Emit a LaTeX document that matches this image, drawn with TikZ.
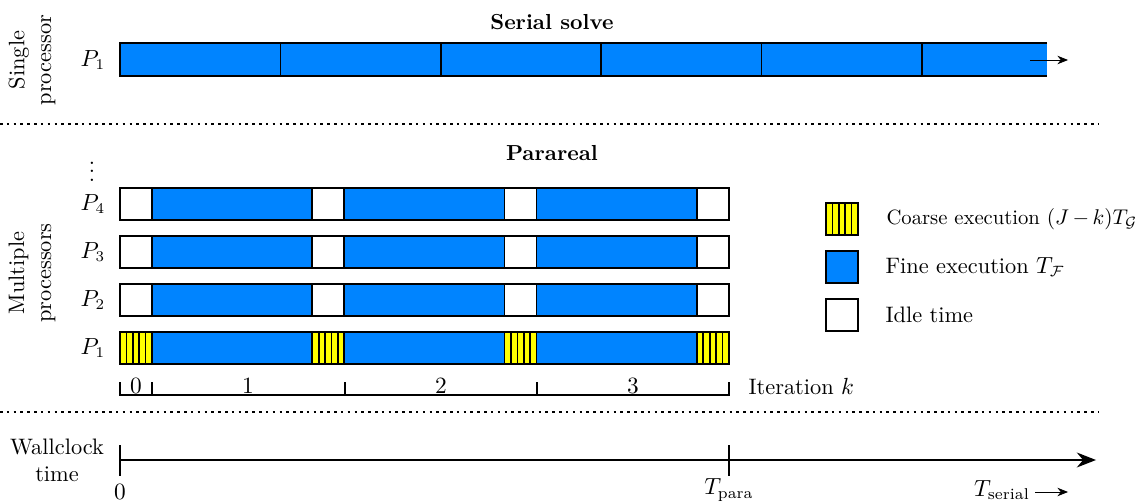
\documentclass[tikz,border=0pt]{standalone}
\usepackage{amsmath,amssymb}
\usepackage{xcolor}
\usetikzlibrary{arrows.meta,positioning,calc}

\definecolor{fineblue}{RGB}{0,132,255}
\definecolor{coarseyellow}{RGB}{255,255,0}

\tikzset{
    txt/.style={font=\fontsize{10.5}{12.6}\selectfont},
    ttl/.style={font=\fontsize{10.2}{12.2}\selectfont\bfseries},
    fineblk/.style={draw=black, thick, fill=fineblue},
    idleblk/.style={draw=black, thick, fill=white},
    coarseblk/.style={draw=black, thick, fill=coarseyellow},
    sepline/.style={dotted, very thick},
    sidelabel/.style={txt, align=center, rotate=90},
}

\begin{document}
\begin{tikzpicture}[x=0.0165cm, y=-0.0165cm]
    \useasboundingbox (0,0) rectangle (1143,503);

    % Single processor: serial solve
    \node[ttl] (serialtitle) at (552,22) {Serial solve};
    \node[sidelabel] (single) at (32,60) {Single\\processor};
    \node[txt] (sp1) at (93,60) {$P_1$};
    \fill[fineblue] (120,43) rectangle (1047,76);
    \draw[thick] (1047,43) -- (120,43) -- (120,76) -- (1047,76);
    \foreach \i in {1,...,5} {
        \draw[thick] (120+\i*160.4,43) -- (120+\i*160.4,76);
    }
    \coordinate (sa) at (1030,60);
    \coordinate (sb) at (1068,60);
    \draw[-{Stealth[length=5pt,width=4pt]}] (sa) -- (sb);

    % Separator
    \draw[sepline] (0,124) -- (1098,124);

    % Multiple processors: parareal
    \node[ttl] (paratitle) at (552,153) {Parareal};
    \node[txt] (vdots) at (92,165) {$\vdots$};
    \node[sidelabel] (multiple) at (32,273) {Multiple\\processors};
    \foreach \r/\lab in {188/4, 236/3, 284/2} {
        \node[txt] (p\lab) at (93,\r+16) {$P_\lab$};
        \foreach \j in {0,1,2,3} {
            \draw[idleblk] (120+\j*192.3,\r) rectangle ++(32,32);
        }
        \foreach \j in {0,1,2} {
            \draw[fineblk] (152+\j*192.3,\r) rectangle ++(160.3,32);
        }
    }
    % P1 row with coarse propagation
    \node[txt] (p1) at (93,348) {$P_1$};
    \foreach \j in {0,1,2,3} {
        \draw[coarseblk] (120+\j*192.3,332) rectangle ++(32,32);
        \foreach \s in {1,...,4} {
            \draw[thick] (120+\j*192.3+\s*6.4,332) -- ++(0,32);
        }
    }
    \foreach \j in {0,1,2} {
        \draw[fineblk] (152+\j*192.3,332) rectangle ++(160.3,32);
    }

    % Iteration axis
    \draw[thick] (120,382) -- (120,395) -- (729,395) -- (729,382);
    \foreach \x in {152,345,537} {
        \draw[thick] (\x,382) -- (\x,395);
    }
    \foreach \x/\k in {136/0, 248/1, 441/2, 633/3} {
        \node[txt] (it\k) at (\x,386) {$\k$};
    }
    \node[txt, anchor=west] (iterlab) at (741,387) {Iteration $k$};

    % Separator
    \draw[sepline] (0,412) -- (1098,412);

    % Wallclock time
    \node[txt, align=center] (wall) at (57,460) {Wallclock\\time};
    \coordinate (t0) at (120,460);
    \coordinate (tend) at (1096,460);
    \coordinate (tpara) at (729,460);
    \draw[thick, -{Stealth[length=9pt,width=7pt]}] (t0) -- (tend);
    \draw[thick] ($(t0)+(0,-15)$) -- ($(t0)+(0,16)$);
    \draw[thick] ($(tpara)+(0,-15)$) -- ($(tpara)+(0,16)$);
    \node[txt] (zero) at (120,492) {$0$};
    \node[txt] (tparalab) at (729,490) {$T_{\text{para}}$};
    \node[txt] (tserlab) at (1002,490) {$T_{\text{serial}}$};
    \coordinate (tsa) at (1035,492);
    \coordinate (tsb) at (1068,492);
    \draw[-{Stealth[length=5pt,width=4pt]}] (tsa) -- (tsb);

    % Legend
    \draw[coarseblk] (826,203) rectangle ++(32,32);
    \foreach \s in {1,...,4} {
        \draw[thick] (826+\s*6.4,203) -- ++(0,32);
    }
    \draw[fineblk] (826,251) rectangle ++(32,32);
    \draw[idleblk] (826,299) rectangle ++(32,32);
    \node[font=\fontsize{9.7}{11.6}\selectfont, anchor=west] (legcoarse) at (879,219)
        {\medmuskip=3mu Coarse execution $(J-k)T_{\mathcal{G}}$};
    \node[txt, anchor=west] (legfine) at (878,267) {Fine execution $T_{\mathcal{F}}$};
    \node[txt, anchor=west] (legidle) at (878,315) {Idle time};
\end{tikzpicture}
\end{document}
